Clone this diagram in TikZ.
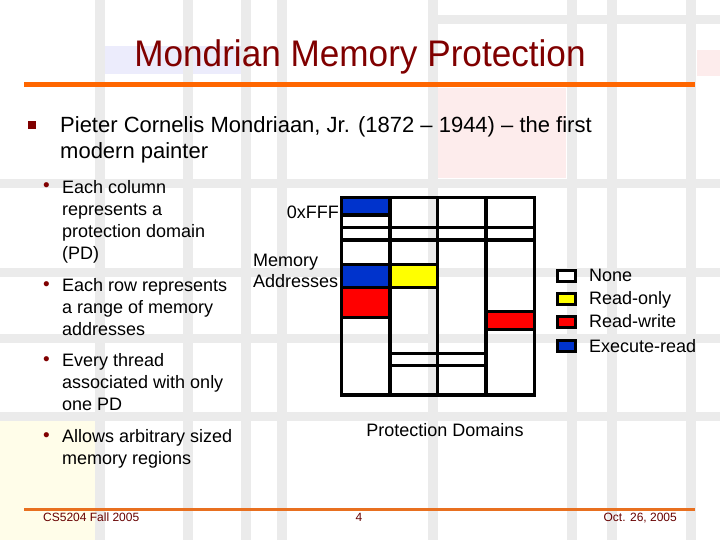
\documentclass[tikz,border=0pt]{standalone}
\usepackage{graphicx}
\usepackage{fontspec}
\setmainfont{Liberation Sans}
\definecolor{titlered}{RGB}{128,0,0}
\definecolor{footred}{RGB}{102,0,0}
\definecolor{rulecol}{RGB}{255,102,0}
\definecolor{footrule}{RGB}{232,112,32}
\definecolor{band}{RGB}{235,235,235}
\definecolor{mblue}{RGB}{0,51,204}
\definecolor{myellow}{RGB}{255,255,0}
\definecolor{mred}{RGB}{255,0,0}
\definecolor{pinkbg}{RGB}{253,236,236}
\definecolor{lilacbg}{RGB}{236,236,252}
\definecolor{creambg}{RGB}{255,253,233}
\newcommand\fnTitle{\fontsize{37bp}{44bp}\selectfont}
\newcommand\fnBody{\fontsize{22bp}{26bp}\selectfont}
\newcommand\fnSub{\fontsize{18bp}{22bp}\selectfont}
\newcommand\fnLab{\fontsize{18bp}{21bp}\selectfont}
\newcommand\fnFoot{\fontsize{12bp}{14bp}\selectfont}
\tikzset{
  cell/.style={line width=3.5bp, line cap=rect},
  legbox/.style={draw=black, line width=3bp, minimum width=18bp, minimum height=11bp, inner sep=0},
  lab/.style={inner sep=0, font=\fnLab},
  subtext/.style={inner sep=0, anchor=north west, align=left, font=\fnSub},
  dot/.style={inner sep=0, anchor=base, text=titlered, font=\fontsize{19bp}{19bp}\selectfont},
  foot/.style={inner sep=0, text=footred, font=\fnFoot},
}
\begin{document}
\begin{tikzpicture}[x=1bp, y=-1bp]
  % background template
  \fill[white] (0,0) rectangle (720,540);
  \useasboundingbox (0,0) rectangle (720,540);
  \fill[lilacbg] (105,46) rectangle (245,74);
  \fill[pinkbg] (438,88) rectangle (566,178);
  \fill[pinkbg] (697,50) rectangle (720,76);
  \fill[creambg] (0,421) rectangle (95,540);
  \foreach \x in {100,187.5,246,282,432.5,571.5,612,691}
    \fill[band] (\x-5,0) rectangle (\x+5,540);
  \foreach \y in {183.5,272.5,338.5,416.5}
    \fill[band] (0,\y-4.5) rectangle (720,\y+4.5);
  \fill[band] (438,15) rectangle (720,24);

  % title and rules
  \node[inner sep=0, anchor=base, text=titlered, font=\fnTitle] (title) at (360,67)
    {\scalebox{0.95}[1]{Mondrian Memory Protection}};
  \draw[line width=5bp, rulecol] (24,84.5) -- (695,84.5);
  \draw[line width=3bp, footrule] (24,509.5) -- (695,509.5);

  % bullets
  \node[fill=titlered, minimum size=8bp, inner sep=0] (sq) at (32,125) {};
  \node[inner sep=0, anchor=north west, align=left, font=\fnBody] (pieter) at (60,116)
    {Pieter Cornelis Mondriaan, Jr. (1872 – 1944) – the first\\modern painter};
  \foreach \y/\t [count=\i] in {193/{Each column\\represents a\\protection domain\\(PD)},
      291/{Each row represents\\a range of memory\\addresses},
      366/{Every thread\\associated with only\\one PD},
      442/{Allows arbitrary sized\\memory regions}} {
    \node[dot] (dot\i) at (46.5,\y-1) {•};
    \node[subtext] (item\i) at (62,\y-13) {\t};
  }

  % Mondrian grid
  \fill[mblue] (341.5,197.5) rectangle (390,215);
  \fill[mblue] (341.5,264.5) rectangle (390,287.5);
  \fill[mred] (341.5,287.5) rectangle (390,317.5);
  \fill[myellow] (390,264.5) rectangle (437.5,287.5);
  \fill[mred] (486,311.5) rectangle (534.5,329.5);
  \draw[cell] (341.5,197.5) rectangle (534.5,395);
  \foreach \x in {390,437.5,486}
    \draw[cell] (\x,197.5) -- (\x,395);
  \foreach \y in {215,227.5,240,264.5,287.5,317.5}
    \draw[cell] (341.5,\y) -- (390,\y);
  \foreach \y in {227.5,240,264.5,287.5,353.5,365.5}
    \draw[cell] (390,\y) -- (437.5,\y);
  \foreach \y in {227.5,240,353.5,365.5}
    \draw[cell] (437.5,\y) -- (486,\y);
  \foreach \y in {227.5,240,311.5,329.5}
    \draw[cell] (486,\y) -- (534.5,\y);

  % axis labels
  \node[lab, anchor=base east] (topaddr) at (339,219) {0xFFF};
  \node[lab, anchor=north west, align=left] (memaddr) at (253,254) {Memory\\Addresses};
  \node[lab, anchor=base] (domains) at (445,436) {Protection Domains};

  % legend
  \foreach \y/\c/\t [count=\i] in {275.5/white/None, 298.5/myellow/Read-only,
      321.5/mred/Read-write, 346/mblue/Execute-read} {
    \node[legbox, fill=\c] (key\i) at (566,\y) {};
    \node[lab, anchor=base west] (keytext\i) at ([xshift=23bp, yshift=-6bp]key\i.center) {\t};
  }

  % footer
  \node[foot, anchor=base west] (course) at (43,521) {CS5204 Fall 2005};
  \node[foot, anchor=base] (page) at (359,521) {4};
  \node[foot, anchor=base east] (date) at (677,521) {Oct. 26, 2005};
\end{tikzpicture}
\end{document}
